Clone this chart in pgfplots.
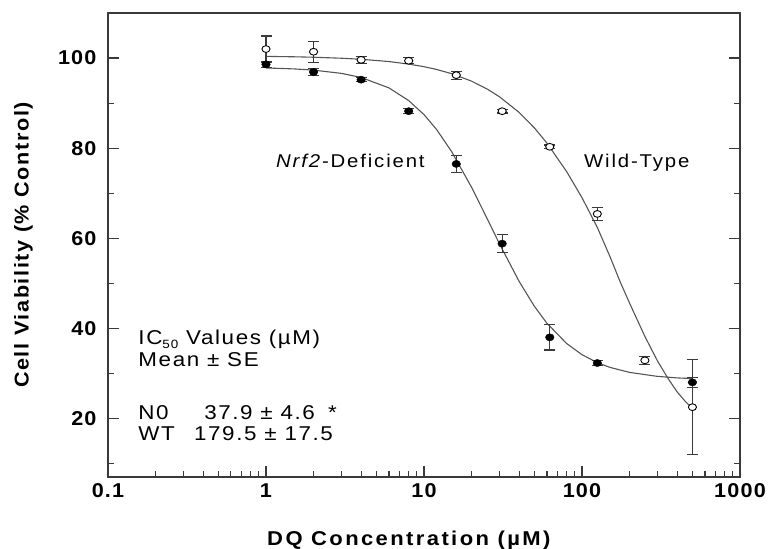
\documentclass[border=0pt]{standalone}
\usepackage{pgfplots}
\pgfplotsset{compat=1.18}
\usepackage{pgfplotstable}
\usepackage{fontspec}
\setmainfont{Liberation Sans}
\newfontfamily\xlblfont[FakeStretch=1.1,LetterSpace=12]{Liberation Sans}
\newfontfamily\ylblfont[FakeStretch=1.08,LetterSpace=8]{Liberation Sans}
\newfontfamily\tickfont[FakeStretch=1.08,LetterSpace=6]{Liberation Sans}
\newfontfamily\annfont[FakeStretch=1.12,LetterSpace=8]{Liberation Sans}
\newfontfamily\curvefont[FakeStretch=1.1,LetterSpace=10]{Liberation Sans}
\definecolor{axgray}{HTML}{3A3A3A}
\definecolor{crvgray}{HTML}{555555}

\pgfplotstableread{
x y e
1 98.6 0.6
2 96.9 0.8
4 95.2 0.5
8 88.2 0.6
16 76.5 1.9
31.25 58.8 2.0
62.5 38.0 2.8
125 32.3 0.5
500 28.0 1.1
}\nzero

\pgfplotstableread{
x y e
1 102.0 2.9
2 101.4 2.3
4 99.6 0.8
8 99.4 0.7
16 96.2 0.9
31.25 88.2 0.4
62.5 80.3 0.4
125 65.4 1.5
250 32.9 0.9
500 22.5 10.5
}\wt

\pgfplotstableread{
x y
1 97.80
1.5 97.59
2 97.32
3 96.60
4 95.69
6 93.37
8 90.56
10 87.44
12 84.16
15 79.17
20 71.31
25 64.48
30 58.80
40 50.41
50 44.87
60 41.12
80 36.62
100 34.15
125 32.39
150 31.34
200 30.22
300 29.34
400 29.00
500 28.84
}\nzerofit

\pgfplotstableread{
x y
1 100.37
1.5 100.28
2 100.18
3 99.96
4 99.73
6 99.22
8 98.66
10 98.08
12 97.47
15 96.52
20 94.87
25 93.16
30 91.42
40 87.93
50 84.48
60 81.12
80 74.77
100 69.00
125 62.40
150 56.00
175 50.20
200 45.60
250 38.20
300 32.80
350 28.90
400 25.90
450 23.80
500 22.20
}\wtfit

\begin{document}
\begin{tikzpicture}
\path[use as bounding box] (-108bp,-72bp) rectangle (660bp,477bp);
\begin{axis}[
  at={(0,0)}, anchor=south west,
  scale only axis,
  width=632bp, height=464bp,
  xmode=log,
  xmin=0.1, xmax=1000,
  ymin=7, ymax=110,
  axis line style={draw=axgray, line width=1.2bp},
  xtick={0.1,1,10,100,1000},
  xticklabels={0.1,1,10,100,1000},
  minor xtick={0.2,0.3,0.4,0.5,0.6,0.7,0.8,0.9,2,3,4,5,6,7,8,9,20,30,40,50,60,70,80,90,200,300,400,500,600,700,800,900},
  ytick={20,40,60,80,100},
  minor ytick={10,30,50,70,90},
  xtick pos=bottom,
  ytick pos=both,
  tick align=inside,
  major tick length=11bp,
  minor tick length=6bp,
  every tick/.style={draw=axgray, line width=1.1bp},
  /pgf/number format/assume math mode=true,
  ticklabel style={font=\tickfont\bfseries\fontsize{20bp}{24bp}\selectfont, text=black},
  xticklabel style={yshift=-3bp},
  yticklabel style={xshift=-8bp},
  xlabel={DQ Concentration (µM)},
  ylabel={Cell Viability (\% Control)},
  xlabel style={font=\xlblfont\bfseries\fontsize{20bp}{24bp}\selectfont, at={(axis description cs:0.476,-0.1487)}, anchor=base, inner sep=0pt},
  ylabel style={font=\ylblfont\bfseries\fontsize{20bp}{24bp}\selectfont, at={(axis description cs:-0.1187,0.5)}, anchor=south, inner sep=0pt},
  clip=false,
]
\addplot[draw=crvgray, line width=1.1bp, no marks] table[x=x,y=y]{\nzerofit};
\addplot[draw=crvgray, line width=1.1bp, no marks] table[x=x,y=y]{\wtfit};

\addplot[only marks, mark=*, mark size=3.4bp,
  mark options={fill=white, draw=black, line width=0.9bp, xscale=1.2},
  error bars/.cd, y dir=both, y explicit,
  error bar style={draw=axgray, line width=1.1bp},
  error mark options={rotate=90, mark size=5.5bp, draw=axgray, line width=1.1bp}]
  table[x=x,y=y,y error=e]{\wt};

\addplot[only marks, mark=*, mark size=3.6bp,
  mark options={fill=black, draw=black, xscale=1.2},
  error bars/.cd, y dir=both, y explicit,
  error bar style={draw=axgray, line width=1.1bp},
  error mark options={rotate=90, mark size=5.5bp, draw=axgray, line width=1.1bp}]
  table[x=x,y=y,y error=e]{\nzero};

\node[anchor=base west, inner sep=0pt, font=\curvefont\fontsize{18.5bp}{22bp}\selectfont] at (rel axis cs:0.2658,0.666) {\textit{Nrf2}-Deficient};
\node[anchor=base west, inner sep=0pt, font=\curvefont\fontsize{18.5bp}{22bp}\selectfont] at (rel axis cs:0.753,0.666) {Wild-Type};

\node[anchor=base west, inner sep=0pt, font=\annfont\fontsize{20bp}{24bp}\selectfont] at (rel axis cs:0.0479,0.2845) {IC\raisebox{-0.2em}{\fontsize{12bp}{13bp}\selectfont 50} Values (µM)};
\node[anchor=base west, inner sep=0pt, font=\annfont\fontsize{20bp}{24bp}\selectfont] at (rel axis cs:0.0479,0.2377) {Mean ± SE};
\node[anchor=base west, inner sep=0pt, font=\annfont\fontsize{20bp}{24bp}\selectfont] at (rel axis cs:0.0479,0.1244) {N0};
\node[anchor=base west, inner sep=0pt, font=\annfont\fontsize{20bp}{24bp}\selectfont] at (rel axis cs:0.152,0.1244) {37.9 ± 4.6};
\node[anchor=base west, inner sep=0pt, font=\annfont\fontsize{20bp}{24bp}\selectfont] at (rel axis cs:0.348,0.1244) {*};
\node[anchor=base west, inner sep=0pt, font=\annfont\fontsize{20bp}{24bp}\selectfont] at (rel axis cs:0.0479,0.0782) {WT};
\node[anchor=base west, inner sep=0pt, font=\annfont\fontsize{20bp}{24bp}\selectfont] at (rel axis cs:0.136,0.0782) {179.5 ± 17.5};
\end{axis}
\end{tikzpicture}
\end{document}
